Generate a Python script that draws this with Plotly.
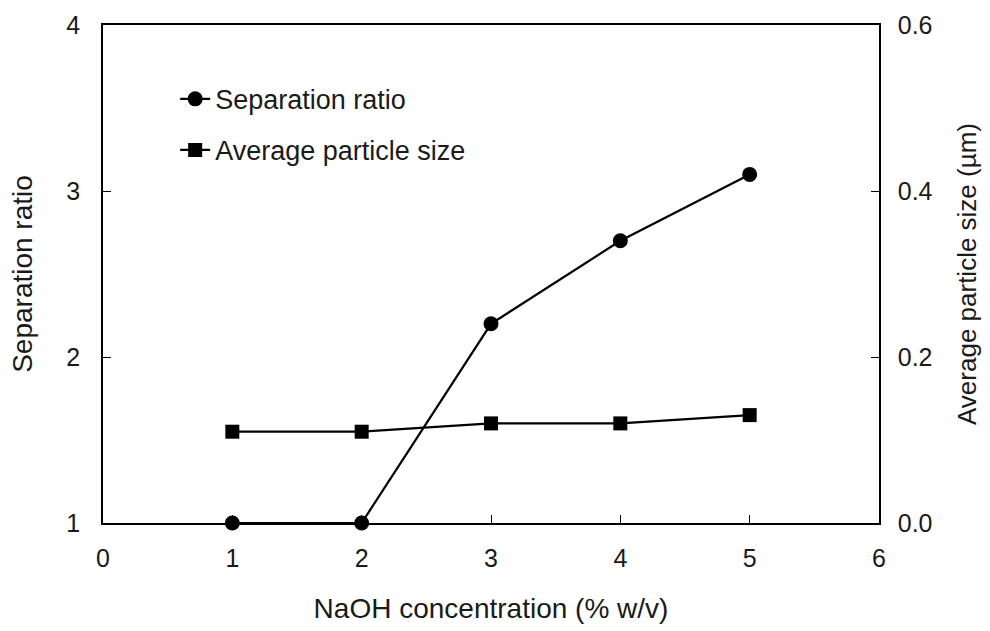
import plotly.graph_objects as go

naoh = [1, 2, 3, 4, 5]
separation_ratio = [1.0, 1.0, 2.2, 2.7, 3.1]
particle_size = [0.11, 0.11, 0.12, 0.12, 0.13]

FONT = "Liberation Sans, Arial, sans-serif"
TEXT = "#1a1a1a"

fig = go.Figure()
fig.add_trace(go.Scatter(
    x=naoh, y=separation_ratio, name="Separation ratio",
    mode="lines+markers", legendgroup="sep",
    line=dict(color="black", width=2.2),
    marker=dict(symbol="circle", size=15, color="black"),
    cliponaxis=False,
))
fig.add_trace(go.Scatter(
    x=naoh, y=particle_size, name="Average particle size",
    mode="lines+markers", yaxis="y2", legendgroup="size",
    line=dict(color="black", width=2.2),
    marker=dict(symbol="square", size=14, color="black"),
    cliponaxis=False,
))

axis_common = dict(
    showgrid=False, zeroline=False, showline=True, linecolor="black",
    linewidth=1.5, ticks="inside", ticklen=8, tickcolor="black",
    tickfont=dict(family=FONT, size=25, color=TEXT),
)

fig.update_layout(
    width=990, height=631,
    margin=dict(l=103, r=111, t=25, b=108),
    paper_bgcolor="white", plot_bgcolor="white",
    font=dict(family=FONT, color=TEXT),
    showlegend=True,
    legend=dict(
        x=0.093, y=0.9, xanchor="left", yanchor="top",
        bgcolor="rgba(0,0,0,0)",
        font=dict(family=FONT, size=27, color=TEXT),
        traceorder="grouped", tracegroupgap=13,
    ),
    xaxis=dict(
        range=[0, 6], dtick=1, mirror=True,
        title=dict(text="NaOH concentration (% w/v)",
                   font=dict(family=FONT, size=28), standoff=28),
        ticklabelstandoff=12,
        **axis_common,
    ),
    yaxis=dict(
        range=[1, 4], dtick=1,
        title=dict(text="Separation ratio",
                   font=dict(family=FONT, size=28), standoff=26),
        ticklabelstandoff=16,
        **axis_common,
    ),
    yaxis2=dict(
        range=[0, 0.6], dtick=0.2, tickformat=".1f",
        overlaying="y", side="right",
        title=dict(text="Average particle size (µm)",
                   font=dict(family=FONT, size=26), standoff=26),
        ticklabelstandoff=12,
        **axis_common,
    ),
)

fig.write_html("out.html")
